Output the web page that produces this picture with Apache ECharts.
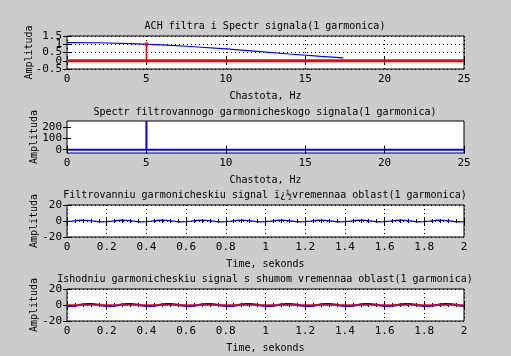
<!DOCTYPE html>
<html><head><meta charset="utf-8">
<script src="https://cdn.jsdelivr.net/npm/echarts@6/dist/echarts.min.js"></script>
<style>html,body{margin:0;padding:0;background:#cccccc}#c{width:511px;height:356px}</style>
</head><body><div id="c"></div>
<script>
// ---- data ----
const titles = [
  'ACH filtra i Spectr signala(1 garmonica)',
  'Spectr filtrovannogo garmonicheskogo signala(1 garmonica)',
  'Filtrovanniu garmonicheskiu signal \u00ef\u00bf\u00bdvremennaa oblast(1 garmonica)',
  'Ishodniu garmonicheskiu signal s shumom vremennaa oblast(1 garmonica)'
];
const xNames = ['Chastota, Hz', 'Chastota, Hz', 'Time, sekonds', 'Time, sekonds'];
const yName = 'Amplituda';
const yTickValues = [[-0.5, 0, 0.5, 1, 1.5], [0, 100, 200], [-20, 0, 20], [-20, 0, 20]];
// plot 1 tick labels are split in two sets so the tightly packed labels all show
const yLabelValuesA = [[-0.5, 0.5, 1.5], [0, 100, 200], [-20, 0, 20], [-20, 0, 20]];
const yLabelValuesB = [0, 1];

const achFreq = [0, 2, 4, 6, 8, 10, 12, 14, 16, 17.4];
const achAmp  = [1.1, 1.09, 1.04, 0.96, 0.85, 0.72, 0.57, 0.41, 0.26, 0.18];
const specBaseFreq = [0, 25];
const specBaseAmp  = [0, 0];
const stemFreq = [5, 5];
const stemAmp  = [0, 1.0];

const filtSpecFreq = [0, 5, 5, 5, 25];
const filtSpecAmp  = [0, 0, 256, 0, 0];

const time = [0,0.025,0.05,0.075,0.1,0.125,0.15,0.175,0.2,0.225,0.25,0.275,0.3,0.325,0.35,0.375,0.4,0.425,0.45,0.475,0.5,0.525,0.55,0.575,0.6,0.625,0.65,0.675,0.7,0.725,0.75,0.775,0.8,0.825,0.85,0.875,0.9,0.925,0.95,0.975,1,1.025,1.05,1.075,1.1,1.125,1.15,1.175,1.2,1.225,1.25,1.275,1.3,1.325,1.35,1.375,1.4,1.425,1.45,1.475,1.5,1.525,1.55,1.575,1.6,1.625,1.65,1.675,1.7,1.725,1.75,1.775,1.8,1.825,1.85,1.875,1.9,1.925,1.95,1.975,2];
const filtSignal = [
 -0.8,-0.2,0.6,1,0.8,0.2,-0.6,-1, -0.8,-0.2,0.6,1,0.8,0.2,-0.6,-1,
 -0.8,-0.2,0.6,1,0.8,0.2,-0.6,-1, -0.8,-0.2,0.6,1,0.8,0.2,-0.6,-1,
 -0.8,-0.2,0.6,1,0.8,0.2,-0.6,-1, -0.8,-0.2,0.6,1,0.8,0.2,-0.6,-1,
 -0.8,-0.2,0.6,1,0.8,0.2,-0.6,-1, -0.8,-0.2,0.6,1,0.8,0.2,-0.6,-1,
 -0.8,-0.2,0.6,1,0.8,0.2,-0.6,-1, -0.8,-0.2,0.6,1,0.8,0.2,-0.6,-1, -0.8];
const noisySignal = [
 -1.3,-1.4,-0.7,0.5,1.3,1.4,0.7,-0.5, -1.3,-1.4,-0.7,0.5,1.3,1.4,0.7,-0.5,
 -1.3,-1.4,-0.7,0.5,1.3,1.4,0.7,-0.5, -1.3,-1.4,-0.7,0.5,1.3,1.4,0.7,-0.5,
 -1.3,-1.4,-0.7,0.5,1.3,1.4,0.7,-0.5, -1.3,-1.4,-0.7,0.5,1.3,1.4,0.7,-0.5,
 -1.3,-1.4,-0.7,0.5,1.3,1.4,0.7,-0.5, -1.3,-1.4,-0.7,0.5,1.3,1.4,0.7,-0.5,
 -1.3,-1.4,-0.7,0.5,1.3,1.4,0.7,-0.5, -1.3,-1.4,-0.7,0.5,1.3,1.4,0.7,-0.5, -1.3];
const refTime = [0, 2];
const refSignal = [0, 0];

// ---- layout ----
const FONT = 'DejaVu Sans Mono';
const gridTops = [36, 121, 205, 289];
const gridHeights = [33, 32, 32, 32];
const titleY = [26, 112, 195, 279];
const xRanges = [[0,25,5],[0,25,5],[0,2,0.2],[0,2,0.2]];
const yRanges = [[-0.5,1.5],[-30,257],[-20,20],[-20,20]];
const yNameGaps = [33, 27.5, 27.5, 27.5];
const gridShow = [true, false, true, true];
const minorX = [false, false, true, true];

const pair = (xs, ys) => xs.map((x, i) => [x, ys[i]]);
const txt = {fontFamily: FONT, fontSize: 10, color: '#000'};
const dotted = {color: '#000', width: 1, type: [1, 3]};
const tickStyle = {color: '#000', width: 1};
const labelStyle = {fontFamily: FONT, fontSize: 11, color: '#000', margin: 5};

const grids = [], xAxes = [], yAxes = [], graphics = [];
for (let i = 0; i < 4; i++) {
  grids.push({left: 67, top: gridTops[i], width: 397, height: gridHeights[i], show: true,
    backgroundColor: '#fff', borderColor: '#000', borderWidth: 1});
  const [x0, x1, xi] = xRanges[i];
  const [y0, y1] = yRanges[i];
  const yv = yTickValues[i];
  xAxes.push({type: 'value', gridIndex: i, position: 'bottom', min: x0, max: x1, interval: xi,
    name: xNames[i], nameLocation: 'middle', nameGap: 22, nameTextStyle: txt, nameMoveOverlap: false,
    axisLine: {show: false},
    axisTick: {show: true, inside: true, length: 4, lineStyle: tickStyle},
    minorTick: {show: minorX[i], splitNumber: 5, length: 2, lineStyle: tickStyle},
    axisLabel: Object.assign({showMinLabel: true, showMaxLabel: true}, labelStyle),
    splitLine: {show: gridShow[i], lineStyle: dotted}});
  xAxes.push({type: 'value', gridIndex: i, position: 'top', min: x0, max: x1, interval: xi,
    axisLine: {show: false},
    axisTick: {show: true, inside: true, length: 4, lineStyle: tickStyle},
    minorTick: {show: minorX[i], splitNumber: 5, length: 2, lineStyle: tickStyle},
    axisLabel: {show: false}, splitLine: {show: false}});
  yAxes.push({type: 'value', gridIndex: i, position: 'left', min: y0, max: y1,
    name: yName, nameLocation: 'middle', nameGap: yNameGaps[i], nameTextStyle: txt, nameMoveOverlap: false,
    axisLine: {show: false},
    axisTick: {show: true, inside: true, length: 4, lineStyle: tickStyle, customValues: yv},
    axisLabel: Object.assign({customValues: yLabelValuesA[i], hideOverlap: false, showMinLabel: true, showMaxLabel: true}, labelStyle),
    splitLine: {show: gridShow[i], lineStyle: dotted}});
  yAxes.push({type: 'value', gridIndex: i, position: 'right', min: y0, max: y1,
    axisLine: {show: false},
    axisTick: {show: true, inside: true, length: 4, lineStyle: tickStyle, customValues: yv},
    axisLabel: {show: false}, splitLine: {show: false}});
  graphics.push({type: 'text', x: 265, y: titleY[i],
    style: {text: titles[i], font: '10px "' + FONT + '"', fill: '#000', textAlign: 'center', textVerticalAlign: 'middle'}});
}
// extra label-only axis for the remaining plot-1 tick labels
yAxes.push({type: 'value', gridIndex: 0, position: 'left', offset: 0, min: yRanges[0][0], max: yRanges[0][1],
  axisLine: {show: false}, axisTick: {show: false}, splitLine: {show: false},
  axisLabel: Object.assign({customValues: yLabelValuesB, hideOverlap: false, showMinLabel: true, showMaxLabel: true}, labelStyle)});

const line = (xi, yi, data, color, width, extra) => Object.assign({
  type: 'line', xAxisIndex: xi, yAxisIndex: yi, data, symbol: 'none', showSymbol: false,
  lineStyle: {color, width}, itemStyle: {color}, animation: false, silent: true, clip: true
}, extra || {});

const series = [
  line(0, 0, pair(achFreq, achAmp), '#0000ff', 1.2),
  line(0, 0, pair(specBaseFreq, specBaseAmp), '#ff0000', 3),
  line(0, 0, pair(stemFreq, stemAmp).map((p, i) => ({value: p, symbol: i === 1 ? 'circle' : 'none', symbolSize: 4})),
    '#ff0000', 1.5, {showSymbol: true, symbol: 'circle', symbolSize: 4}),
  line(2, 2, pair(filtSpecFreq, filtSpecAmp), '#0000ff', 2),
  line(4, 4, pair(time, filtSignal), '#0000ff', 1.3),
  line(6, 6, pair(time, noisySignal), '#0000ff', 2),
  line(6, 6, pair(refTime, refSignal), '#ff0000', 1.5)
];

const chart = echarts.init(document.getElementById('c'), null, {renderer: 'canvas'});
chart.setOption({
  backgroundColor: '#cccccc',
  animation: false,
  grid: grids, xAxis: xAxes, yAxis: yAxes, series, graphic: graphics
});
</script></body></html>
